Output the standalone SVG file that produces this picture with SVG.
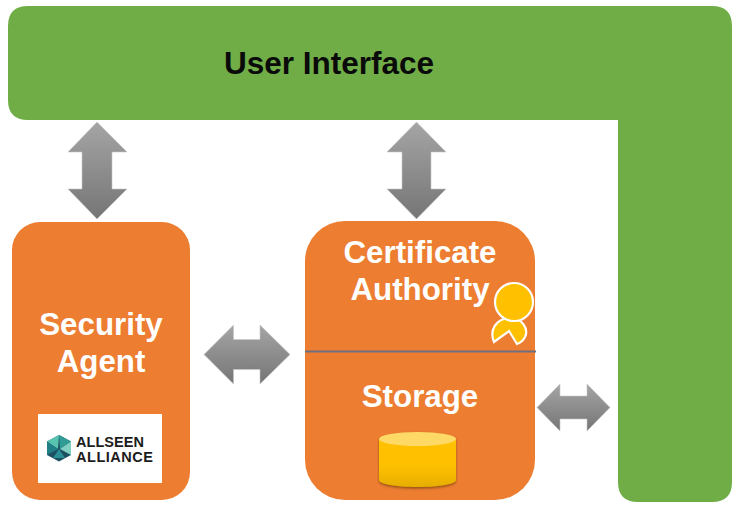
<svg xmlns="http://www.w3.org/2000/svg" width="741" height="509" viewBox="0 0 741 509">
<style>
text{font-family:"Liberation Sans",Arial,sans-serif;font-weight:700}
.w{fill:#fff;font-size:31.300px;text-anchor:middle}
.o{fill:#ed7d31}
.a{stroke:#c8c8c8;stroke-width:.6}
.l{fill:#1c1c1c;font-size:14.500px}
</style>
<defs>
<linearGradient id="g" x1="0" y1="0" x2="0" y2="1"><stop offset="0" stop-color="#a5a5a5"/><stop offset="1" stop-color="#757575"/></linearGradient>
<linearGradient id="c" x1="0" y1="0" x2="0" y2="1"><stop offset="0" stop-color="#ffc000"/><stop offset=".55" stop-color="#ffc000"/><stop offset="1" stop-color="#e6ae00"/></linearGradient>
<filter id="s" x="-10%" y="-10%" width="120%" height="125%"><feDropShadow dx="0" dy="1.500" stdDeviation="1.200" flood-color="#5a3000" flood-opacity=".6"/></filter>
</defs>
<rect width="741" height="509" fill="#fff"/>
<g id="user-interface">
<path d="M28 6H712Q732 6 732 26V482Q732 502 712 502H638Q618 502 618 482V120H28Q8 120 8 100V26Q8 6 28 6Z" fill="#70ad47"/>
<text x="329" y="74" font-size="31.500" text-anchor="middle" style="fill:#0a0a0a">User Interface</text>
</g>
<g id="security-agent">
<rect class="o" x="12" y="222" width="178" height="278" rx="28"/>
<text class="w" x="101" y="335">Security</text>
<text class="w" x="101" y="372">Agent</text>
<g id="allseen-logo">
<rect x="38" y="414" width="124" height="69" fill="#fff"/>
<polygon points="59,435 71,441.500 71,455 59,461.500 47,455 47,441.500" fill="#1d4f63"/>
<polygon points="59,435 71,441.500 60,449" fill="#2f9c95"/>
<polygon points="59,435 47,441.500 58,449" fill="#58c4b0"/>
<polygon points="47,441.500 47,455 58,449" fill="#1f7f86"/>
<polygon points="71,455 71,441.500 60,449" fill="#7fd0c2"/>
<polygon points="59,449 53,458 65,458" fill="#2a8f94"/>
<text class="l" x="76" y="447" textLength="68">ALLSEEN</text>
<text class="l" x="76" y="462" textLength="77">ALLIANCE</text>
</g>
</g>
<g id="certificate-authority">
<rect class="o" x="305" y="221" width="230" height="279" rx="40"/>
<text class="w" x="420" y="263">Certificate</text>
<text class="w" x="420" y="300">Authority</text>
<g id="certificate-badge" fill="#ffc000" stroke="#fff" stroke-width="2.200">
<path d="M494 342C489 330 496 319 509 318C522 317 529 329 525 337C523 341 520 343 517 344L509 331Z"/>
<circle cx="514" cy="302" r="19"/>
</g>
<line x1="305" y1="351.500" x2="536" y2="351.500" stroke="#70707c" stroke-width="2"/>
</g>
<g id="storage">
<text class="w" x="420" y="407">Storage</text>
<g id="storage-cylinder" filter="url(#s)">
<path d="M379 439V480C379 484 396 487 417.500 487S456 484 456 480V439Z" fill="url(#c)"/>
<ellipse cx="417.500" cy="439" rx="38.500" ry="7" fill="#ffd966"/>
</g>
</g>
<g id="connectors">
<polygon class="a" fill="url(#g)" points="97,122 127,152 112,152 112,189 127,189 97,219 68,189 82,189 82,152 68,152"/>
<polygon class="a" fill="url(#g)" points="416.500,122 446,152 431,152 431,189 446,189 416.500,219 387,189 402,189 402,152 387,152"/>
<polygon class="a" fill="url(#g)" points="204,354.500 233.500,325 233.500,339.500 260,339.500 260,325 290,354.500 260,384 260,369.500 233.500,369.500 233.500,384"/>
<polygon class="a" fill="url(#g)" points="537,407.500 560,384 560,396 587,396 587,384 610,407.500 587,431 587,419 560,419 560,431"/>
</g>
</svg>
